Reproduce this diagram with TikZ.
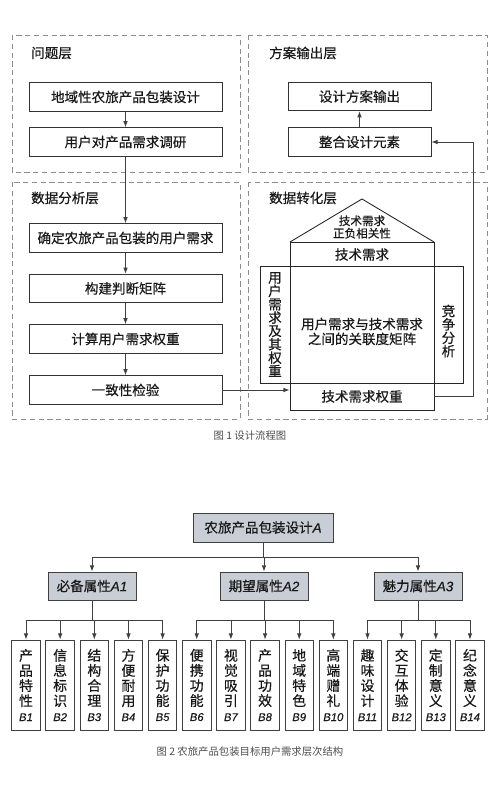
\documentclass[tikz,border=0pt]{standalone}
\usepackage{fontspec}
\setmainfont{Noto Sans CJK SC}[RawFeature={embolden=0.5}]
\newfontfamily\capfont{Noto Sans CJK SC}
\newfontfamily\latinfont{Liberation Sans}[RawFeature={embolden=0.5}]
\usepackage{xcolor}
\usetikzlibrary{arrows.meta,calc}
\definecolor{nodegray}{HTML}{C9CED6}
\newcommand{\itlab}[1]{{\latinfont\itshape #1}}
\newcommand{\blab}[1]{{\fontsize{6.4}{7}\selectfont\latinfont\itshape #1}}

\begin{document}
\begin{tikzpicture}[
    x=0.02cm, y=-0.02cm,
    every node/.style={font=\fontsize{7.7}{9}\selectfont, text=black!90},
    panel/.style={draw=black!45, densely dashed, line width=0.4pt},
    layer/.style={anchor=west},
    flowbox/.style={rectangle, draw=black!80, line width=0.5pt, minimum width=3.86cm, minimum height=0.57cm, inner sep=0pt},
    outbox/.style={flowbox, minimum width=2.86cm},
    hqline/.style={draw=black!85, line width=0.5pt},
    attr/.style={rectangle, draw=black!75, fill=nodegray, line width=0.5pt, minimum width=1.76cm, minimum height=0.56cm, inner sep=0pt},
    leaf/.style={rectangle, draw=black!75, line width=0.5pt, minimum width=0.57cm, minimum height=1.8cm, inner sep=0pt, align=center, font=\fontsize{7.9}{8.6}\selectfont},
    arrow/.style={-{Latex[length=3.5pt,width=2.6pt]}, draw=black!75, line width=0.45pt},
    caption/.style={font=\capfont\fontsize{5.9}{7}\selectfont, text=black!70}
]
    \useasboundingbox (0,0) rectangle (500,786);

    % layers
    \draw[panel] (12,35) rectangle (240,172);
    \draw[panel] (248,35) rectangle (487,172);
    \draw[panel] (12,182) rectangle (240,419);
    \draw[panel] (248,182) rectangle (487,419);
    \node[layer] (t1) at (25,53) {问题层};
    \node[layer] (t2) at (263,53) {方案输出层};
    \node[layer] (t3) at (25,198) {数据分析层};
    \node[layer] (t4) at (263,198) {数据转化层};

    % left column
    \node[flowbox] (topic) at (125.5,97) {地域性农旅产品包装设计};
    \node[flowbox] (survey) at (125.5,142) {用户对产品需求调研};
    \node[flowbox] (needs) at (125.5,238) {确定农旅产品包装的用户需求};
    \node[flowbox] (judge) at (125.5,288.5) {构建判断矩阵};
    \node[flowbox] (weights) at (125.5,339) {计算用户需求权重};
    \node[flowbox] (check) at (125.5,390) {一致性检验};

    % right column
    \node[outbox] (output) at (359.5,96.5) {设计方案输出};
    \node[outbox] (merge) at (359.5,142) {整合设计元素};

    % house of quality
    \draw[hqline] (290,242) -- (362,199) -- (434,242);
    \draw[hqline] (290,242) rectangle (434,383);
    \draw[hqline] (260,266) rectangle (463,383);
    \node[draw=black!85, line width=0.5pt, minimum width=2.88cm, minimum height=0.54cm, inner sep=0pt] (techw) at (362,396.5) {技术需求权重};
    \node[align=center, font=\fontsize{6.6}{6}\selectfont] (roof) at (362,227) {技术需求\\正负相关性};
    \node (techreq) at (362,254.5) {技术需求};
    \node[align=center, font=\fontsize{7.7}{8.5}\selectfont] (relation) at (362,331.5) {用户需求与技术需求\\之间的关联度矩阵};
    \node[align=center, font=\fontsize{7.7}{7.6}\selectfont] (userw) at (275,324.5) {用\\户\\需\\求\\及\\其\\权\\重};
    \node[align=center, font=\fontsize{7.7}{7.6}\selectfont] (compete) at (448.5,331) {竞\\争\\分\\析};

    \draw[arrow] (topic) -- (survey);
    \draw[arrow] (survey) -- (needs);
    \draw[arrow] (needs) -- (judge);
    \draw[arrow] (judge) -- (weights);
    \draw[arrow] (weights) -- (check);
    \draw[arrow] (merge) -- (output);
    \draw[arrow] (check.east) -- (check.east -| techw.west);
    \draw[arrow] (techw.east) -- ++(39,0) |- (merge.east);

    \node[caption] (cap1) at (250,436) {图 1 设计流程图};

    % hierarchy
    \node[attr, minimum width=2.8cm, minimum height=0.58cm] (goal) at (263,527.5) {农旅产品包装设计\itlab{A}};
    \node[attr] (a1) at (92,586) {必备属性\itlab{A1}};
    \node[attr] (a2) at (264,586) {期望属性\itlab{A2}};
    \node[attr] (a3) at (418,586) {魅力属性\itlab{A3}};
    \coordinate (busA) at (263,557);
    \coordinate (busB) at (0,620);
    \foreach \a in {a1,a2,a3}
        \draw[arrow] (goal.south) -- (goal.south |- busA) -| (\a.north);

    \foreach \i/\txt/\p in {1/产\\品\\特\\性/a1, 2/信\\息\\标\\识/a1, 3/结\\构\\合\\理/a1,
        4/方\\便\\耐\\用/a1, 5/保\\护\\功\\能/a1, 6/便\\携\\功\\能/a2, 7/视\\觉\\吸\\引/a2,
        8/产\\品\\功\\效/a2, 9/地\\域\\特\\色/a2, 10/高\\端\\赠\\礼/a2, 11/趣\\味\\设\\计/a3,
        12/交\\互\\体\\验/a3, 13/定\\制\\意\\义/a3, 14/纪\\念\\意\\义/a3} {
        \node[leaf] (b\i) at ({26+(\i-1)*34.15},685) {\txt\\\blab{B\i}};
        \draw[arrow] (\p.south) -- (\p.south |- busB) -| (b\i.north);
    }

    \node[caption] (cap2) at (250,752) {图 2 农旅产品包装目标用户需求层次结构};
\end{tikzpicture}
\end{document}
